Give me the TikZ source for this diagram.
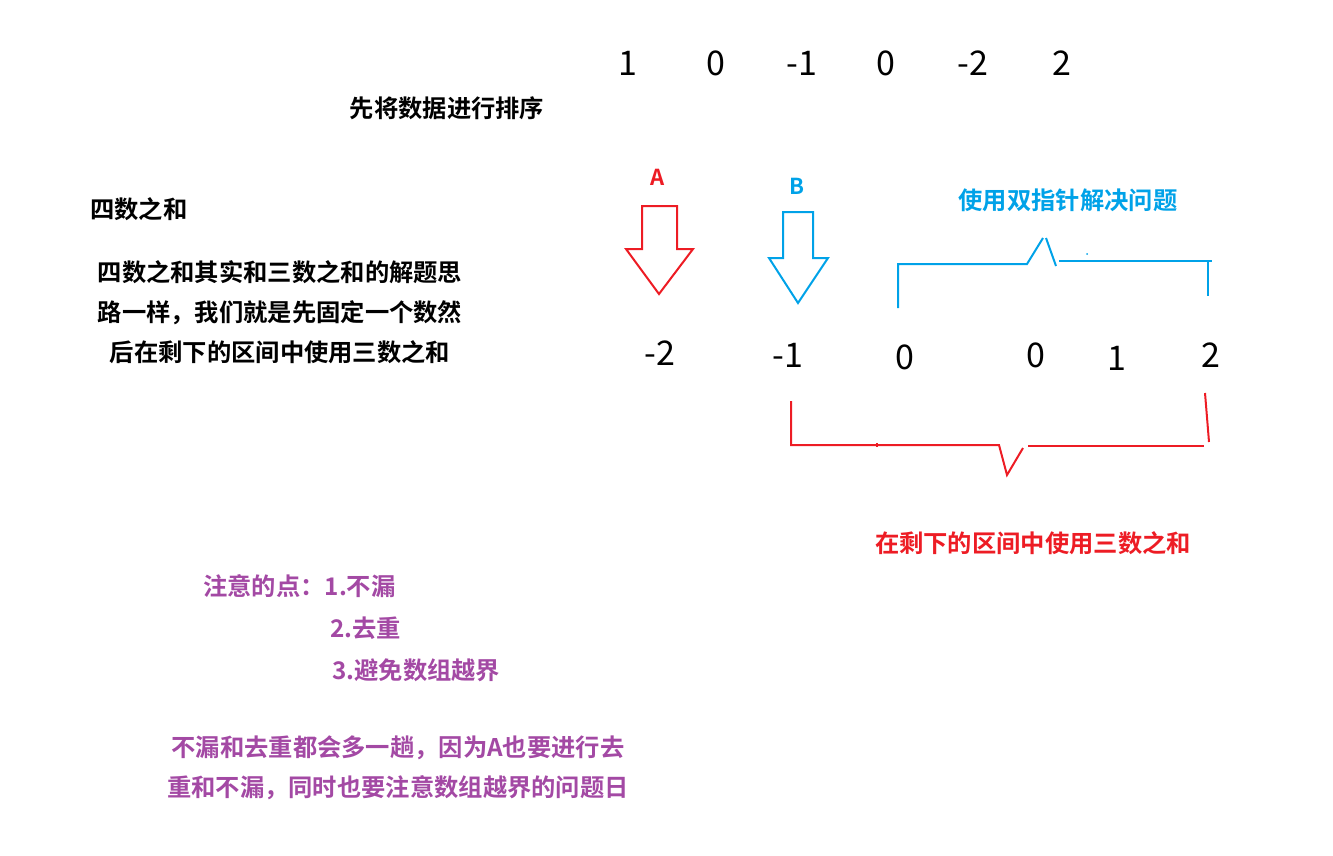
\documentclass[tikz,border=0pt]{standalone}
\usepackage{fontspec}
\newfontfamily\cjk{Noto Sans CJK SC}[BoldFont={Noto Sans CJK SC Bold}]
\definecolor{pred}{RGB}{237,28,36}
\definecolor{pblue}{RGB}{0,162,232}
\definecolor{ppurple}{RGB}{163,73,164}
\begin{document}
\begin{tikzpicture}[x=1pt,y=-1pt,
  txt/.style={inner sep=0pt, font=\cjk\bfseries\fontsize{24.3}{40}\selectfont},
  num/.style={inner sep=0pt, font=\cjk\fontsize{34}{40}\selectfont},
  lbl/.style={inner sep=0pt, font=\cjk\bfseries\fontsize{22}{26}\selectfont},
  redln/.style={draw=pred, line width=2pt},
  blueln/.style={draw=pblue, line width=2pt}]
\useasboundingbox (0,0) rectangle (1333,855);
% top row
\node[num] (t1) at (628,63) {1};
\node[num] (t2) at (716,63) {0};
\node[num] (t3) at (802,63) {-1};
\node[num] (t4) at (886,63) {0};
\node[num] (t5) at (973,63) {-2};
\node[num] (t6) at (1062,63) {2};
\node[txt] (sort) at (447,108) {先将数据进行排序};
\node[txt, anchor=west] (title) at (90,209) {四数之和};
\node[txt, align=center] (desc) at (280,312) {四数之和其实和三数之和的解题思\\路一样，我们就是先固定一个数然\\后在剩下的区间中使用三数之和};
% arrows
\node[lbl, text=pred] (la) at (658,177) {A};
\node[lbl, text=pblue] (lb) at (797,186) {B};
\draw[redln, line join=miter] (642,206) -- (677,206) -- (677,249) -- (693,249) -- (659,294) -- (626,249) -- (642,249) -- cycle;
\draw[blueln, line join=miter] (783,212) -- (813,212) -- (813,258) -- (828,258) -- (798,303) -- (769,258) -- (783,258) -- cycle;
% middle row
\node[num] (m1) at (660,353) {-2};
\node[num] (m2) at (788,355) {-1};
\node[num] (m3) at (905,357) {0};
\node[num] (m4) at (1036,355) {0};
\node[num] (m5) at (1117,358) {1};
\node[num] (m6) at (1211,355) {2};
% blue brace
\node[txt, text=pblue] (two) at (1068,200) {使用双指针解决问题};
\draw[blueln] (898,308) -- (898,264) -- (1027,264) -- (1043,238);
\draw[blueln] (1046,238) -- (1056,266);
\draw[blueln] (1059,261) -- (1212,261);
\draw[blueln] (1208,260) -- (1208,296);
\fill[pblue] (1087,254) circle (1pt);
% red brace
\draw[redln] (791,401) -- (791,445) -- (999,445) -- (1007,475) -- (1023,448);
\draw[redln] (877,443) -- (877,447);
\draw[redln] (1028,446) -- (1204,446);
\draw[redln] (1205,393) -- (1209,442);
\node[txt, text=pred] (three) at (1033,543) {在剩下的区间中使用三数之和};
% notes
\node[txt, text=ppurple, anchor=west] (n1) at (203,586) {注意的点：1.不漏};
\node[txt, text=ppurple, anchor=west] (n2) at (330,628) {2.去重};
\node[txt, text=ppurple, anchor=west] (n3) at (332,670) {3.避免数组越界};
\node[txt, text=ppurple, align=center] (n4) at (398,768) {不漏和去重都会多一趟，因为A也要进行去\\重和不漏，同时也要注意数组越界的问题日};
\end{tikzpicture}
\end{document}
